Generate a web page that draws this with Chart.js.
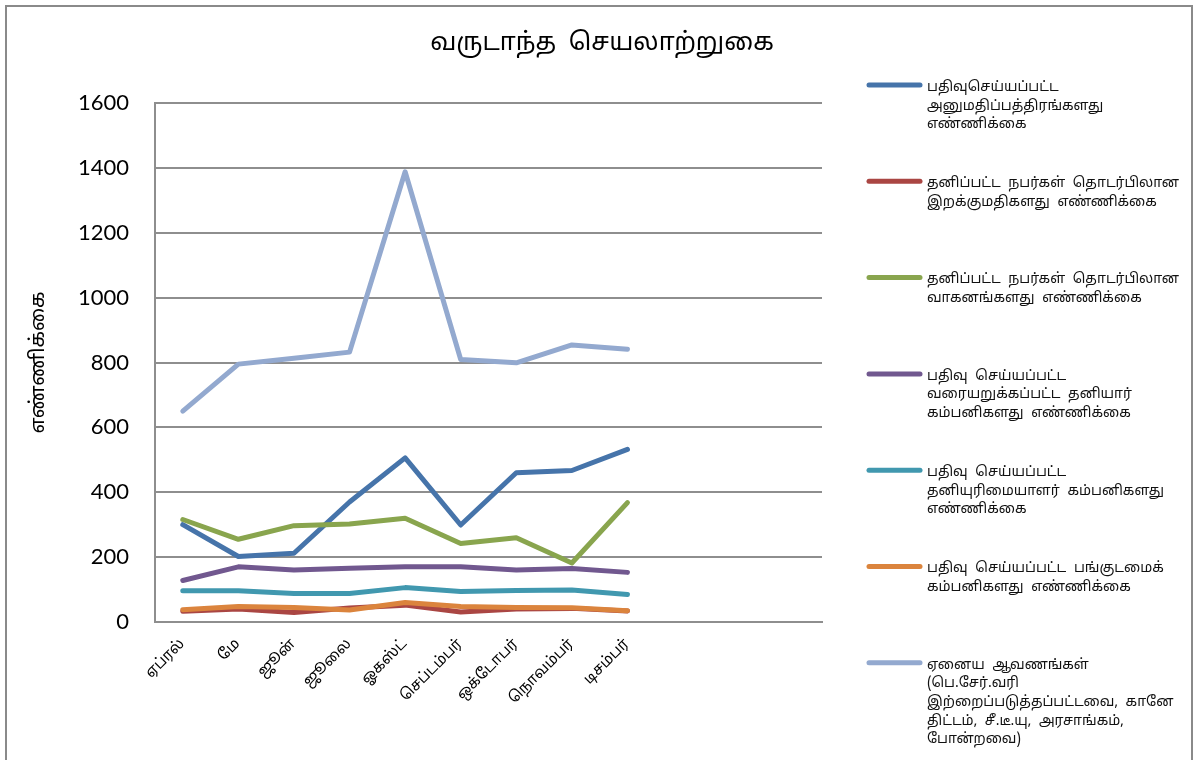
<!DOCTYPE html>
<html>
<head>
<meta charset="utf-8">
<script src="https://cdn.jsdelivr.net/npm/chart.js@4.4.1/dist/chart.umd.min.js"></script>
<style>
  html, body { margin: 0; padding: 0; background: #fff; }
  #wrap { position: relative; width: 1195px; height: 760px; }
</style>
</head>
<body>
<div id="wrap"><canvas id="chart" width="1195" height="760"></canvas></div>
<script>
// months (last three left blank like the original sheet)
const months = ['ஏப்ரல்', 'மே', 'ஜூன்', 'ஜூலை', 'ஓகஸ்ட்', 'செப்டம்பர்', 'ஒக்டோபர்', 'நொவம்பர்', 'டிசம்பர்', '', '', ''];

const permits     = [300, 202, 212, 370, 506, 299, 460, 467, 532, null, null, null];
const imports     = [33, 40, 29, 43, 52, 31, 40, 42, 34, null, null, null];
const vehicles    = [316, 255, 297, 302, 320, 242, 260, 182, 368, null, null, null];
const privateCos  = [128, 170, 160, 166, 170, 170, 160, 165, 153, null, null, null];
const soleCos     = [96, 96, 88, 88, 106, 94, 97, 99, 85, null, null, null];
const partnerCos  = [38, 48, 45, 37, 60, 48, 45, 44, 35, null, null, null];
const otherDocs   = [650, 795, 813, 832, 1388, 809, 799, 854, 841, null, null, null];

const yTicks = [0, 200, 400, 600, 800, 1000, 1200, 1400, 1600];

const seriesNames = [
  ['பதிவுசெய்யப்பட்ட', 'அனுமதிப்பத்திரங்களது', 'எண்ணிக்கை'],
  ['தனிப்பட்ட நபர்கள் தொடர்பிலான', 'இறக்குமதிகளது எண்ணிக்கை'],
  ['தனிப்பட்ட நபர்கள் தொடர்பிலான', 'வாகனங்களது எண்ணிக்கை'],
  ['பதிவு செய்யப்பட்ட', 'வரையறுக்கப்பட்ட தனியார்', 'கம்பனிகளது எண்ணிக்கை'],
  ['பதிவு செய்யப்பட்ட', 'தனியுரிமையாளர் கம்பனிகளது', 'எண்ணிக்கை'],
  ['பதிவு செய்யப்பட்ட பங்குடமைக்', 'கம்பனிகளது எண்ணிக்கை'],
  ['ஏனைய ஆவணங்கள்', '(பெ.சேர்.வரி', 'இற்றைப்படுத்தப்பட்டவை, கானே', 'திட்டம், சீ.டீ.யு, அரசாங்கம்,', 'போன்றவை)']
];
const seriesColors = ['#4674AA', '#AA4643', '#89A54E', '#71588F', '#4198AF', '#DB843D', '#93A9CF'];
const seriesData = [permits, imports, vehicles, privateCos, soleCos, partnerCos, otherDocs];

const tamilFont = "Latha, 'Noto Sans Tamil', 'Lohit Tamil', 'Noto Sans', sans-serif";
const gridGray = '#8e8e8e';

const frameAndLegend = {
  id: 'frameAndLegend',
  beforeDraw(chart) {
    const ctx = chart.ctx;
    ctx.save();
    ctx.fillStyle = '#fff';
    ctx.fillRect(0, 0, chart.width, chart.height);
    ctx.strokeStyle = '#8a8a8a';
    ctx.lineWidth = 2;
    ctx.strokeRect(6, 6, 1186, 780);
    ctx.restore();
  },
  afterDraw(chart) {
    const ctx = chart.ctx;
    ctx.save();
    // title
    ctx.fillStyle = '#000';
    ctx.font = '25px ' + tamilFont;
    ctx.textAlign = 'center';
    ctx.textBaseline = 'middle';
    if ('wordSpacing' in ctx) ctx.wordSpacing = '6px';
    ctx.fillText('வருடாந்த செயலாற்றுகை', 602, 45);

    // legend
    ctx.textAlign = 'left';
    ctx.font = '14px ' + tamilFont;
    if ('wordSpacing' in ctx) ctx.wordSpacing = '4px';
    chart.data.datasets.forEach((ds, i) => {
      const y = 85 + i * 96.3;
      ctx.strokeStyle = ds.borderColor;
      ctx.lineWidth = 5;
      ctx.lineCap = 'round';
      ctx.beginPath();
      ctx.moveTo(869, y);
      ctx.lineTo(920, y);
      ctx.stroke();
      ctx.fillStyle = '#111';
      seriesNames[i].forEach((line, j) => {
        ctx.fillText(line, 927, y + 3 + j * 18.7);
      });
    });
    ctx.restore();
  }
};

new Chart(document.getElementById('chart'), {
  type: 'line',
  data: {
    labels: months,
    datasets: seriesData.map((d, i) => ({
      label: seriesNames[i].join(' '),
      data: d,
      borderColor: seriesColors[i],
      backgroundColor: seriesColors[i],
      borderWidth: 5,
      pointRadius: 0,
      tension: 0,
      borderCapStyle: 'round',
      borderJoinStyle: 'round',
      order: seriesData.length - i   // later series drawn on top, as in the original
    }))
  },
  options: {
    responsive: false,
    animation: false,
    layout: { padding: { left: 0, right: 373, top: 103, bottom: 0 } },
    plugins: {
      legend: { display: false },
      title: { display: false },
      tooltip: { enabled: false }
    },
    scales: {
      x: {
        offset: true,
        grid: { display: false },
        border: { display: true, color: gridGray, width: 2 },
        ticks: {
          autoSkip: false,
          minRotation: 45,
          maxRotation: 45,
          padding: 6,
          color: '#000',
          font: { family: tamilFont, size: 15 }
        },
        afterFit(scale) { scale.height = 138; }
      },
      y: {
        min: 0,
        max: 1600,
        afterBuildTicks(scale) { scale.ticks = yTicks.map(v => ({ value: v })); },
        grid: { color: gridGray, lineWidth: 2, drawTicks: false },
        border: { display: true, color: gridGray, width: 2 },
        ticks: {
          padding: 26,
          color: '#000',
          font: { family: 'Lato, Calibri, sans-serif', size: 22 },
          callback: v => String(v)
        },
        title: {
          display: true,
          text: 'எண்ணிக்கை',
          color: '#000',
          font: { family: tamilFont, size: 20 },
          padding: { top: 28, bottom: 0 }
        },
        afterFit(scale) { scale.width = 155; }
      }
    }
  },
  plugins: [frameAndLegend]
});
</script>
</body>
</html>
